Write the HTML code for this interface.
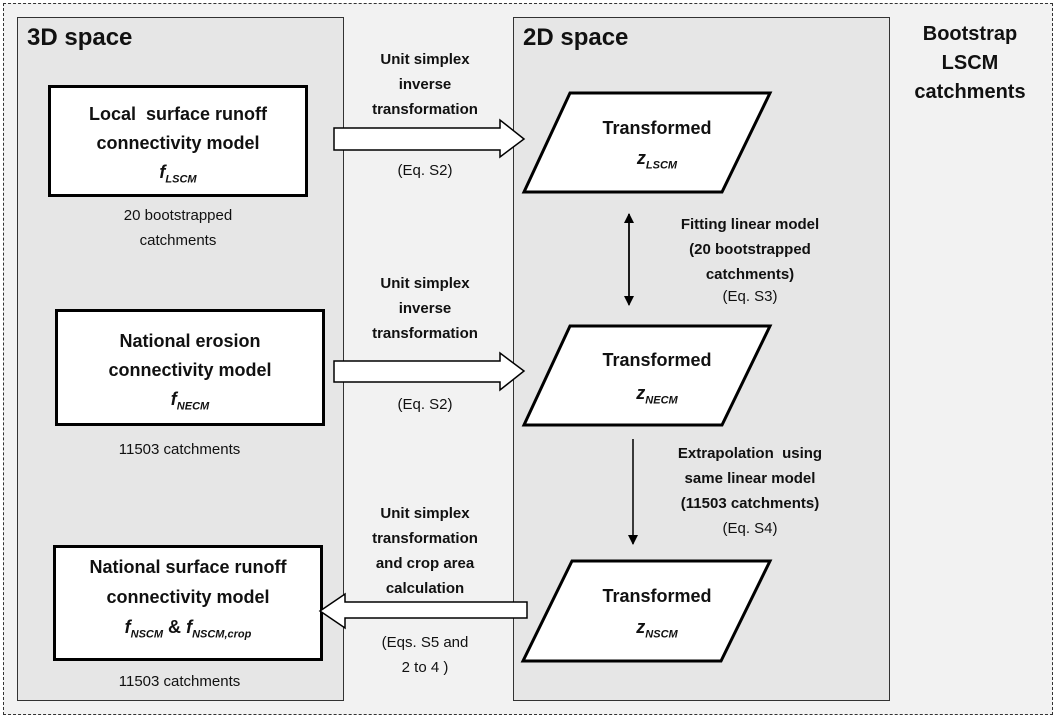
<!DOCTYPE html>
<html><head><style>
body{margin:0;width:1056px;height:720px;background:#fff;overflow:hidden;position:relative;font-family:"Liberation Sans",sans-serif;}
.a{position:absolute;}
.t{position:absolute;text-align:center;white-space:nowrap;color:#111;}
.b{font-weight:bold;}
.box{position:absolute;background:#fff;border:3px solid #000;box-sizing:border-box;}
</style></head><body>
<div class="a" style="left:3px;top:3px;width:1048px;height:710px;border:1px dashed #333;background:#f2f2f2;"></div>
<div class="a" style="left:17px;top:17px;width:325px;height:682px;border:1px solid #333;background:#e6e6e6;"></div>
<div class="a" style="left:513px;top:17px;width:375px;height:682px;border:1px solid #333;background:#e6e6e6;"></div>
<div class="t b" style="left:27px;top:24px;font-size:24px;">3D space</div>
<div class="t b" style="left:523px;top:24px;font-size:24px;">2D space</div>
<div class="t b" style="left:888px;width:164px;top:20px;font-size:20px;line-height:29px;">Bootstrap<br>LSCM<br>catchments</div>

<div class="box" style="left:48px;top:85px;width:260px;height:112px;"></div>
<div class="t b" style="left:48px;width:260px;top:100px;font-size:18px;line-height:29px;">Local&nbsp; surface runoff<br>connectivity model<br><i>f<sub style="font-size:11px">LSCM</sub></i></div>
<div class="t" style="left:48px;width:260px;top:203px;font-size:15px;line-height:25px;">20 bootstrapped<br>catchments</div>

<div class="box" style="left:55px;top:309px;width:270px;height:117px;"></div>
<div class="t b" style="left:55px;width:270px;top:327px;font-size:18px;line-height:29px;">National erosion<br>connectivity model<br><i>f<sub style="font-size:11px">NECM</sub></i></div>
<div class="t" style="left:17px;width:325px;top:441px;font-size:15px;">11503 catchments</div>

<div class="box" style="left:53px;top:545px;width:270px;height:116px;"></div>
<div class="t b" style="left:53px;width:270px;top:552px;font-size:18px;line-height:30px;">National surface runoff<br>connectivity model<br><i>f<sub style="font-size:11px">NSCM</sub></i> &amp; <i>f<sub style="font-size:11px">NSCM,crop</sub></i></div>
<div class="t" style="left:17px;width:325px;top:673px;font-size:15px;">11503 catchments</div>

<div class="t b" style="left:345px;width:160px;top:47px;font-size:15px;line-height:25px;">Unit simplex<br>inverse<br>transformation</div>
<div class="t" style="left:345px;width:160px;top:162px;font-size:15px;">(Eq. S2)</div>
<div class="t b" style="left:345px;width:160px;top:271px;font-size:15px;line-height:25px;">Unit simplex<br>inverse<br>transformation</div>
<div class="t" style="left:345px;width:160px;top:396px;font-size:15px;">(Eq. S2)</div>
<div class="t b" style="left:345px;width:160px;top:501px;font-size:15px;line-height:25px;">Unit simplex<br>transformation<br>and crop area<br>calculation</div>
<div class="t" style="left:345px;width:160px;top:630px;font-size:15px;line-height:25px;">(Eqs. S5 and<br>2 to 4 )</div>

<div class="t b" style="left:660px;width:180px;top:212px;font-size:15px;line-height:25px;">Fitting linear model<br>(20 bootstrapped<br>catchments)</div>
<div class="t" style="left:660px;width:180px;top:288px;font-size:15px;">(Eq. S3)</div>
<div class="t b" style="left:650px;width:200px;top:441px;font-size:15px;line-height:25px;">Extrapolation&nbsp; using<br>same linear model<br>(11503 catchments)</div>
<div class="t" style="left:650px;width:200px;top:520px;font-size:15px;">(Eq. S4)</div>

<svg class="a" style="left:0;top:0" width="1056" height="720">
<defs>
<marker id="ah" markerWidth="10" markerHeight="10" refX="9" refY="5" orient="auto" markerUnits="userSpaceOnUse"><path d="M0,0 L10,5 L0,10 z" fill="#000"/></marker>
</defs>
<g fill="#fff" stroke="#000" stroke-width="1.5">
<path d="M334,128 L500,128 L500,120 L524,139 L500,157 L500,150 L334,150 z"/>
<path d="M334,361 L500,361 L500,353 L524,371 L500,390 L500,382 L334,382 z"/>
<path d="M527,602 L345,602 L345,594 L320,611 L345,628 L345,618 L527,618 z"/>
</g>
<g fill="#fff" stroke="#000" stroke-width="3">
<polygon points="570,93 770,93 722,192 524,192"/>
<polygon points="570,326 770,326 722,425 524,425"/>
<polygon points="572,561 770,561 721,661 523,661"/>
</g>
<line x1="629" y1="297" x2="629" y2="214" stroke="#000" stroke-width="1.5" marker-end="url(#ah)"/>
<line x1="629" y1="214" x2="629" y2="305" stroke="#000" stroke-width="1.5" marker-end="url(#ah)"/>
<line x1="633" y1="439" x2="633" y2="544" stroke="#000" stroke-width="1.5" marker-end="url(#ah)"/>
</svg>
<div class="t b" style="left:547px;width:220px;top:118px;font-size:18px;">Transformed</div>
<div class="t b" style="left:547px;width:220px;top:148px;font-size:18px;"><i>z<sub style="font-size:11px">LSCM</sub></i></div>
<div class="t b" style="left:547px;width:220px;top:350px;font-size:18px;">Transformed</div>
<div class="t b" style="left:547px;width:220px;top:383px;font-size:18px;"><i>z<sub style="font-size:11px">NECM</sub></i></div>
<div class="t b" style="left:547px;width:220px;top:586px;font-size:18px;">Transformed</div>
<div class="t b" style="left:547px;width:220px;top:617px;font-size:18px;"><i>z<sub style="font-size:11px">NSCM</sub></i></div>
</body></html>
